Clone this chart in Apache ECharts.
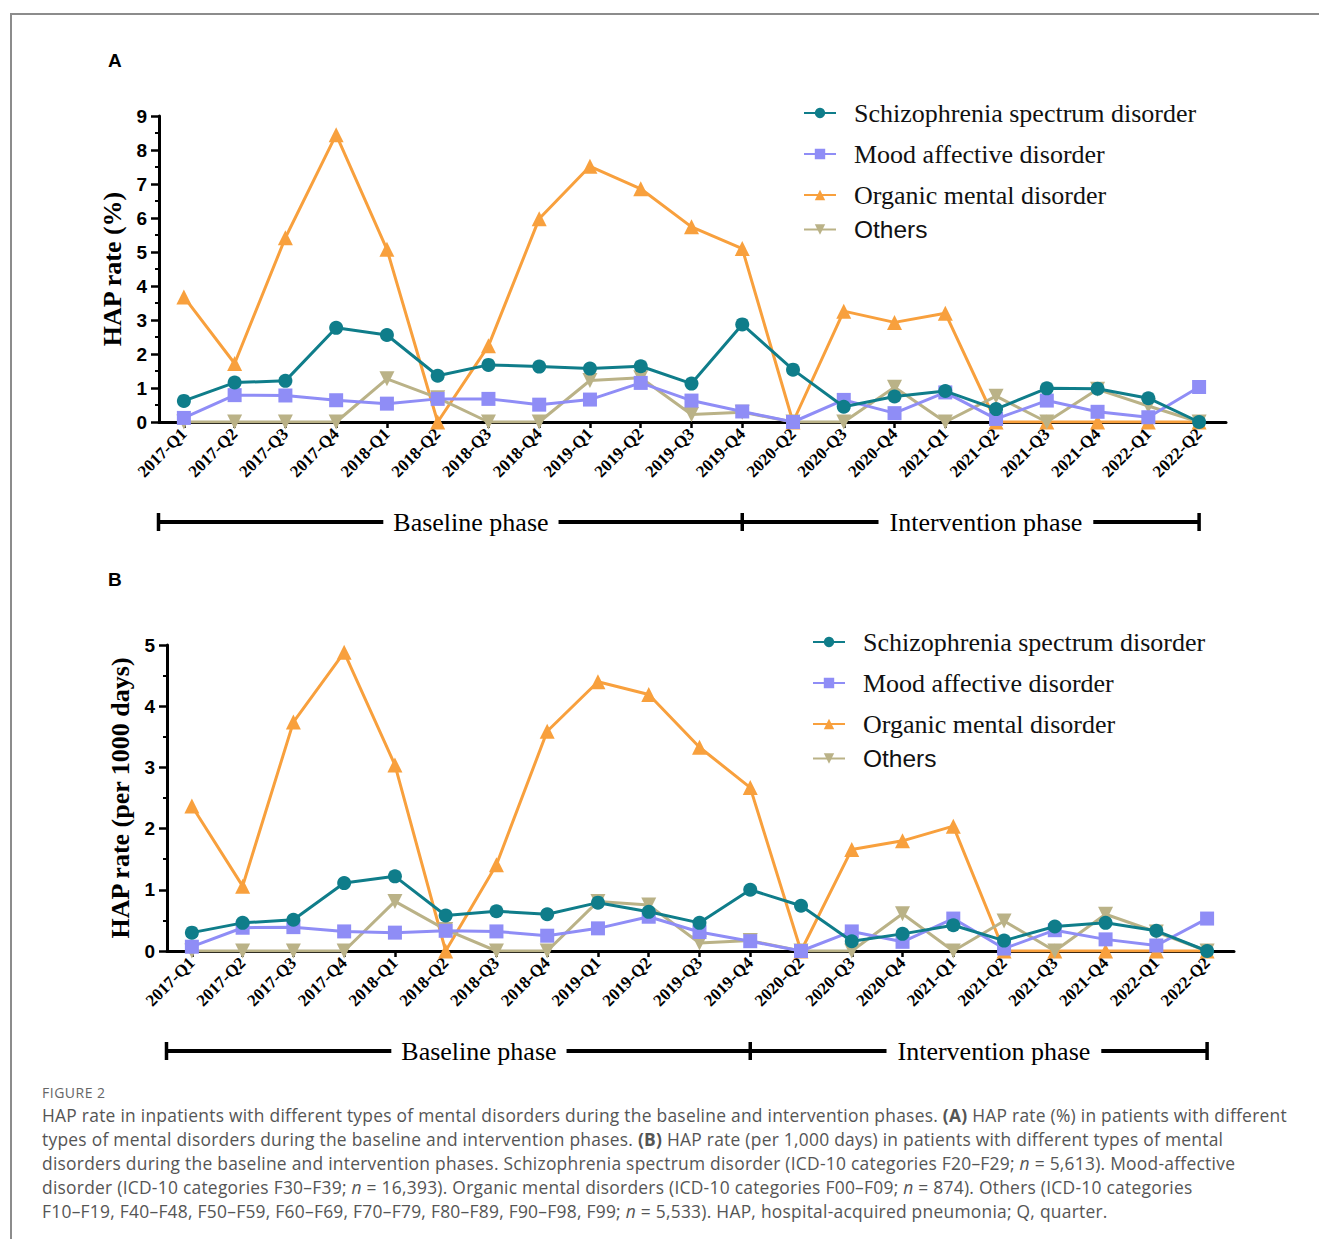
<!DOCTYPE html>
<html>
<head>
<meta charset="utf-8">
<script src="https://cdn.jsdelivr.net/npm/echarts@6/dist/echarts.min.js"></script>
<style>
  html, body { margin: 0; padding: 0; background: #fff; }
  #wrap { position: relative; width: 1319px; height: 1239px; overflow: hidden; background: #fff; }
  #frame { position: absolute; left: 10px; top: 13px; width: 1400px; height: 1400px;
           border-top: 2px solid #8c8c8c; border-left: 2px solid #8c8c8c; }
  #chart { position: absolute; left: 0; top: 0; width: 1319px; height: 1075px; }
  #caption { position: absolute; left: 42px; top: 1083px; font-family: "Open Sans", Lato, sans-serif;
             color: #555; white-space: nowrap; }
  #caption .fig { font-size: 14px; letter-spacing: 0.5px; color: #666; line-height: 20px; }
  #caption .txt { font-size: 17.4px; line-height: 24px; margin-top: 0px; letter-spacing: 0.26px; }
</style>
</head>
<body>
<div id="wrap">
  <div id="frame"></div>
  <div id="chart"></div>
  <div id="caption">
    <div class="fig">FIGURE 2</div>
    <div class="txt">HAP rate in inpatients with different types of mental disorders during the baseline and intervention phases. <b>(A)</b> HAP rate (%) in patients with different<br>types of mental disorders during the baseline and intervention phases. <b>(B)</b> HAP rate (per 1,000 days) in patients with different types of mental<br>disorders during the baseline and intervention phases. Schizophrenia spectrum disorder (ICD-10 categories F20&#8211;F29; <i>n</i> = 5,613). Mood-affective<br>disorder (ICD-10 categories F30&#8211;F39; <i>n</i> = 16,393). Organic mental disorders (ICD-10 categories F00&#8211;F09; <i>n</i> = 874). Others (ICD-10 categories<br>F10&#8211;F19, F40&#8211;F48, F50&#8211;F59, F60&#8211;F69, F70&#8211;F79, F80&#8211;F89, F90&#8211;F98, F99; <i>n</i> = 5,533). HAP, hospital-acquired pneumonia; Q, quarter.</div>
  </div>
</div>
<script>
// ---------- data ----------
const categories = ['2017-Q1','2017-Q2','2017-Q3','2017-Q4','2018-Q1','2018-Q2','2018-Q3','2018-Q4',
  '2019-Q1','2019-Q2','2019-Q3','2019-Q4','2020-Q2','2020-Q3','2020-Q4','2021-Q1','2021-Q2',
  '2021-Q3','2021-Q4','2022-Q1','2022-Q2'];
const seriesNames = ['Schizophrenia spectrum disorder','Mood affective disorder','Organic mental disorder','Others'];

// Panel A: HAP rate (%)
const aSchizo  = [0.62,1.16,1.21,2.77,2.56,1.36,1.68,1.63,1.57,1.64,1.13,2.87,1.54,0.45,0.75,0.91,0.38,0.99,0.98,0.70,0];
const aMood    = [0.12,0.79,0.78,0.64,0.54,0.68,0.68,0.51,0.66,1.15,0.63,0.31,0,0.65,0.26,0.87,0.09,0.63,0.30,0.14,1.03];
const aOrganic = [3.68,1.72,5.42,8.45,5.08,0,2.24,5.98,7.52,6.86,5.74,5.10,0,3.26,2.93,3.20,0,0,0,0,0];
const aOthers  = [0,0,0,0,1.27,0.71,0,0,1.22,1.30,0.22,0.29,0,0,1.02,0,0.76,0,0.96,0.47,0];

// Panel B: HAP rate (per 1000 days)
const bSchizo  = [0.30,0.46,0.51,1.11,1.22,0.58,0.65,0.60,0.79,0.64,0.46,1.00,0.74,0.16,0.28,0.42,0.17,0.40,0.46,0.33,0];
const bMood    = [0.07,0.38,0.39,0.32,0.30,0.33,0.32,0.25,0.37,0.56,0.31,0.16,0,0.32,0.15,0.53,0.04,0.34,0.19,0.09,0.53];
const bOrganic = [2.37,1.06,3.74,4.88,3.04,0,1.41,3.59,4.40,4.19,3.33,2.67,0,1.66,1.80,2.04,0,0,0,0,0];
const bOthers  = [0,0,0,0,0.81,0.35,0,0,0.81,0.75,0.13,0.17,0,0,0.61,0,0.49,0,0.60,0.31,0];

const yTicksA = [0,1,2,3,4,5,6,7,8,9];
const yTicksB = [0,1,2,3,4,5];
const phaseLabels = ['Baseline phase','Intervention phase'];

// ---------- styles ----------
const colors = ['#0f7d8a', '#8f8df6', '#f8a03d', '#bab287'];
const symbols = ['circle', 'rect', 'triangle', 'path://M0,0 L10,0 L5,9 Z'];
const symSizes = [14, 14, 15, 15];
const zs = [5, 4, 2, 3];
const catIdx = categories.map((c, i) => i);

function xAxisDef(gridIndex) {
  return {
    type: 'value', gridIndex: gridIndex, min: -0.49, max: 20.53,
    axisLine: { show: true, onZero: false, lineStyle: { color: '#000', width: 3 } },
    axisTick: { show: true, customValues: catIdx, length: 6, lineStyle: { color: '#000', width: 2.5 } },
    axisLabel: {
      customValues: catIdx, rotate: 45, margin: 9, color: '#000',
      fontFamily: 'Liberation Serif', fontWeight: 'bold', fontSize: 17,
      formatter: v => categories[Math.round(v)]
    },
    splitLine: { show: false }
  };
}
function yAxisDef(gridIndex, name, ticks, gap) {
  return {
    type: 'value', gridIndex: gridIndex, min: ticks[0], max: ticks[ticks.length - 1], interval: 1,
    name: name, nameLocation: 'middle', nameGap: gap, nameRotate: 90,
    nameTextStyle: { fontFamily: 'Liberation Serif', fontWeight: 'bold', fontSize: 26, color: '#000' },
    axisLine: { show: true, onZero: false, lineStyle: { color: '#000', width: 3 } },
    axisTick: { show: true, length: 8, lineStyle: { color: '#000', width: 2.5 } },
    minorTick: { show: true, splitNumber: 2, length: 4, lineStyle: { color: '#000', width: 2 } },
    axisLabel: { color: '#000', fontFamily: 'Liberation Sans', fontWeight: 'bold', fontSize: 19, margin: 12 },
    splitLine: { show: false }
  };
}
function makeSeries(gridIndex, arrays) {
  return arrays.map((arr, k) => ({
    name: seriesNames[k], type: 'line', xAxisIndex: gridIndex, yAxisIndex: gridIndex,
    data: arr.map((v, i) => [i, v]),
    symbol: symbols[k], symbolSize: symSizes[k], z: zs[k],
    lineStyle: { color: colors[k], width: 3 },
    itemStyle: { color: colors[k] },
    emphasis: { disabled: true }, animation: false
  }));
}
function legendDefs(left, top) {
  const common = {
    orient: 'vertical', left: left, padding: 0, itemWidth: 32, itemHeight: 13, itemGap: 15,
    selectedMode: false
  };
  return [
    Object.assign({}, common, {
      top: top, data: seriesNames.slice(0, 3),
      textStyle: { fontFamily: 'Liberation Serif', fontSize: 26, color: '#111', padding: [0, 0, 0, 13] }
    }),
    Object.assign({}, common, {
      top: top + 117, data: seriesNames.slice(3),
      textStyle: { fontFamily: 'Liberation Sans', fontSize: 24.5, color: '#111', padding: [0, 0, 0, 13] }
    })
  ];
}

const chart = echarts.init(document.getElementById('chart'), null, { renderer: 'svg', width: 1319, height: 1075 });
const option = {
  backgroundColor: 'transparent',
  animation: false,
  title: [
    { text: 'A', left: 108, top: 51, padding: 0, textStyle: { fontFamily: 'Liberation Sans', fontWeight: 'bold', fontSize: 19, color: '#000' } },
    { text: 'B', left: 108, top: 570, padding: 0, textStyle: { fontFamily: 'Liberation Sans', fontWeight: 'bold', fontSize: 19, color: '#000' } }
  ],
  grid: [
    { left: 159, top: 116, width: 1067, height: 306 },
    { left: 167, top: 645, width: 1067, height: 306 }
  ],
  xAxis: [xAxisDef(0), xAxisDef(1)],
  yAxis: [yAxisDef(0, 'HAP rate (%)', yTicksA, 22), yAxisDef(1, 'HAP rate (per 1000 days)', yTicksB, 22)],
  legend: legendDefs(803, 100).concat(legendDefs(812, 629)),
  series: makeSeries(0, [aSchizo, aMood, aOrganic, aOthers]).concat(makeSeries(1, [bSchizo, bMood, bOrganic, bOthers]))
};
chart.setOption(option);

// phase bars placed with the x axis scale
function phaseGraphics(gi, yOff) {
  const px = v => chart.convertToPixel({ xAxisIndex: gi }, v);
  const y0 = chart.convertToPixel({ yAxisIndex: gi }, 0) + yOff;
  const xl = px(-0.5), xm = px(11), xr = px(20);
  const lw = { stroke: '#000', lineWidth: 4 };
  const capStyle = { stroke: '#000', lineWidth: 3.5 };
  return [
    { type: 'line', shape: { x1: xl, y1: y0, x2: xr, y2: y0 }, style: lw, z: 1 },
    { type: 'line', shape: { x1: xl, y1: y0 - 9, x2: xl, y2: y0 + 9 }, style: capStyle, z: 1 },
    { type: 'line', shape: { x1: xm, y1: y0 - 9, x2: xm, y2: y0 + 9 }, style: capStyle, z: 1 },
    { type: 'line', shape: { x1: xr, y1: y0 - 9, x2: xr, y2: y0 + 9 }, style: capStyle, z: 1 },
    { type: 'text', x: px(5.655), y: y0, z: 2, style: { text: phaseLabels[0], fontFamily: 'Liberation Serif', fontSize: 26,
      fill: '#000', align: 'center', verticalAlign: 'middle', backgroundColor: '#fff', padding: [2, 10] } },
    { type: 'text', x: px(15.8), y: y0, z: 2, style: { text: phaseLabels[1], fontFamily: 'Liberation Serif', fontSize: 26,
      fill: '#000', align: 'center', verticalAlign: 'middle', backgroundColor: '#fff', padding: [2, 11] } }
  ];
}
chart.setOption({ graphic: phaseGraphics(0, 100).concat(phaseGraphics(1, 100)) });
</script>
</body>
</html>
